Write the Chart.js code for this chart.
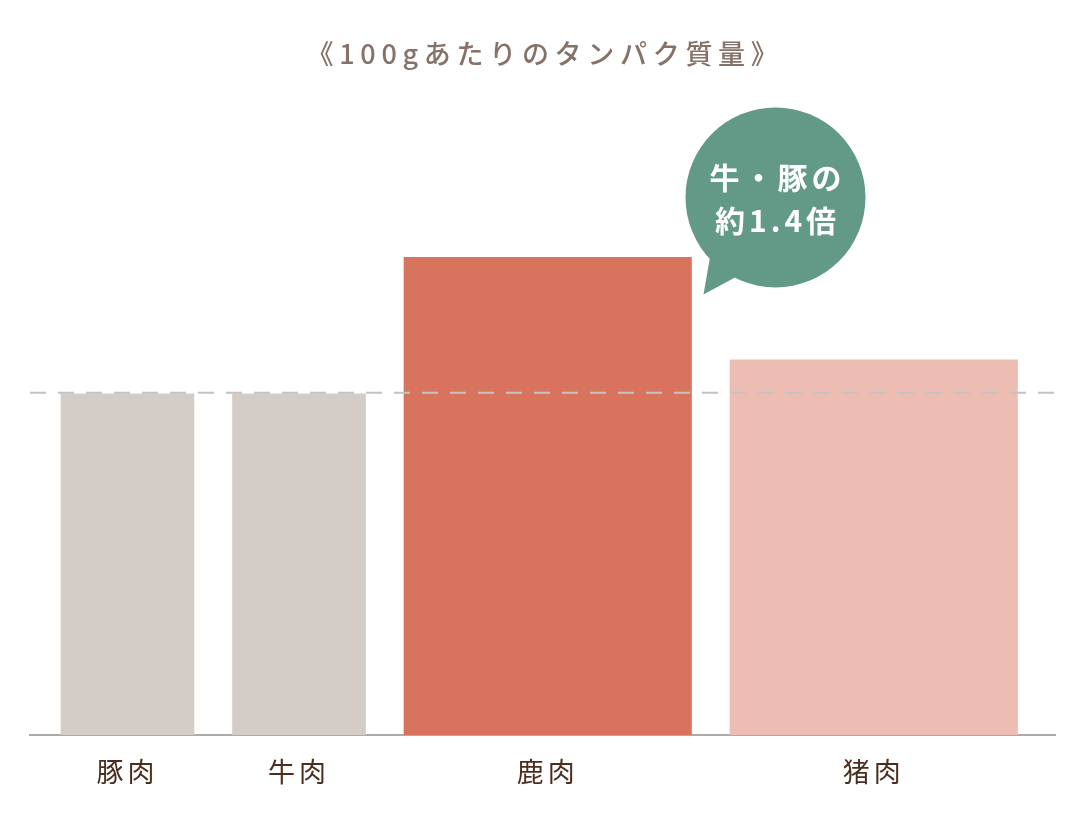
<!DOCTYPE html>
<html><head><meta charset="utf-8">
<script src="https://cdn.jsdelivr.net/npm/chart.js@4/dist/chart.umd.min.js"></script>
<style>html,body{margin:0;padding:0;background:#fff;}#wrap{width:1090px;height:816px;}</style>
</head><body><div id="wrap"><canvas id="c" width="1090" height="816"></canvas></div>
<script>
// ---- data ----
const categories = ['豚肉', '牛肉', '鹿肉', '猪肉'];
const protein = [16.0, 16.0, 22.4, 17.6];
const titleText = '《100gあたりのタンパク質量》';
const calloutLines = ['牛・豚の', '約1.4倍'];
const yMax = 28;

// ---- layout / style ----
const barWidths = [133, 133, 287.5, 287.5];
const barGap = 38.5;
const leftInset = 31;
const axisSpan = 1025;
const barColors = ['#d4ccc7', '#d4ccc7', '#d8735d', '#edbdb3'];
const FONT = '"Noto Sans CJK JP", "Noto Sans", sans-serif';

const centers = [];
let start = leftInset;
barWidths.forEach(w => { centers.push(start + w / 2); start += w + barGap; });

const datasets = categories.map((c, i) => ({
  label: c,
  data: [{ x: centers[i], y: protein[i] }],
  backgroundColor: barColors[i],
  barThickness: barWidths[i],
  grouped: false,
  borderWidth: 0
}));

const deco = {
  id: 'deco',
  beforeDraw(chart) { chart.ctx.letterSpacing = '4px'; },
  afterDatasetsDraw(chart) {
    const ctx = chart.ctx, a = chart.chartArea;
    const y = chart.scales.y.getPixelForValue(protein[0]) - 1;
    ctx.save();
    ctx.strokeStyle = '#c3c3c3';
    ctx.lineWidth = 2;
    ctx.setLineDash([16, 12]);
    ctx.beginPath(); ctx.moveTo(a.left, y); ctx.lineTo(a.right, y); ctx.stroke();
    ctx.restore();
  },
  afterDraw(chart) {
    const ctx = chart.ctx;
    // title
    ctx.save();
    ctx.letterSpacing = '5.7px';
    ctx.font = '500 27px ' + FONT;
    ctx.fillStyle = '#857269';
    ctx.textAlign = 'center';
    ctx.textBaseline = 'middle';
    ctx.fillText(titleText, 545, 54);
    ctx.restore();
    // callout bubble anchored at the deer bar
    const el = chart.getDatasetMeta(2).data[0];
    const right = el.x + el.width / 2, top = el.y;
    const cx = right + 84, cy = top - 60, r = 90;
    ctx.save();
    ctx.fillStyle = '#639a87';
    ctx.beginPath(); ctx.arc(cx, cy, r, 0, Math.PI * 2); ctx.fill();
    const a1 = 115 * Math.PI / 180, a2 = 139 * Math.PI / 180;
    ctx.beginPath();
    ctx.moveTo(cx + (r - 4) * Math.cos(a1), cy + (r - 4) * Math.sin(a1));
    ctx.lineTo(right + 12, top + 37);
    ctx.lineTo(cx + (r - 4) * Math.cos(a2), cy + (r - 4) * Math.sin(a2));
    ctx.closePath(); ctx.fill();
    ctx.fillStyle = '#ffffff';
    ctx.letterSpacing = '4px';
    ctx.font = '700 30px ' + FONT;
    ctx.textAlign = 'center';
    ctx.textBaseline = 'middle';
    ctx.fillText(calloutLines[0], cx + 2, cy - 20);
    ctx.fillText(calloutLines[1], cx + 2, cy + 23);
    ctx.restore();
  }
};

new Chart(document.getElementById('c'), {
  type: 'bar',
  data: { datasets },
  options: {
    responsive: false,
    animation: false,
    devicePixelRatio: 1,
    layout: { padding: { top: 138, left: 30, right: 35, bottom: 0 } },
    plugins: { legend: { display: false }, tooltip: { enabled: false }, title: { display: false } },
    scales: {
      x: {
        type: 'linear', min: 0, max: axisSpan, offset: false,
        grid: { display: false, offset: false },
        border: { display: true, color: '#ababab', width: 2 },
        afterBuildTicks: s => { s.ticks = centers.map(v => ({ value: v })); },
        afterFit: s => { s.height = 81; },
        ticks: {
          autoSkip: false, maxRotation: 0, minRotation: 0, padding: 13,
          color: '#4a2f1f', font: { family: FONT, size: 27, weight: '400' },
          callback: (v, i) => categories[i]
        }
      },
      y: { display: false, min: 0, max: yMax }
    }
  },
  plugins: [deco]
});
</script>
</body></html>
